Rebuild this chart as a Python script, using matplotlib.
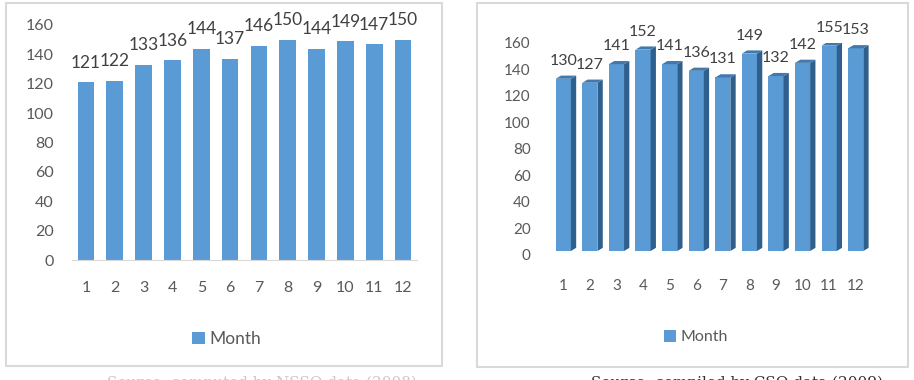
import matplotlib.pyplot as plt
from matplotlib.patches import Rectangle, Polygon

months = [1, 2, 3, 4, 5, 6, 7, 8, 9, 10, 11, 12]
left_vals = [121, 122, 133, 136, 144, 137, 146, 150, 144, 149, 147, 150]
right_vals = [130, 127, 141, 152, 141, 136, 131, 149, 132, 142, 155, 153]
yticks = [0, 20, 40, 60, 80, 100, 120, 140, 160]
series_name = 'Month'

W, H = 914, 380
blue = '#5B9BD5'
side = '#2F5F8C'
top = '#4178AD'
txt = '#595959'
plt.rcParams['font.family'] = ['Lato', 'DejaVu Sans']

fig = plt.figure(figsize=(W / 100, H / 100), dpi=100)
fig.patch.set_facecolor('white')


def px(x0, y0, x1, y1):
    # pixel box (from top-left) -> figure fraction rect
    return [x0 / W, 1 - y1 / H, (x1 - x0) / W, (y1 - y0) / H]


# panel frames
for x0, y0, x1, y1 in [(6, 3, 442, 366), (477, 3, 908, 367)]:
    fig.add_artist(Rectangle((x0 / W, 1 - y1 / H), (x1 - x0) / W, (y1 - y0) / H,
                             transform=fig.transFigure, fill=False,
                             edgecolor='#D9D9D9', lw=1.5))

# ---- left chart (flat bars)
ax1 = fig.add_axes(px(71.6, 25, 417.4, 260))
bars1 = ax1.bar(months, left_vals, width=0.58, color=blue, label=series_name)
ax1.set_xlim(0.5, 12.5)
ax1.set_ylim(0, 160)
ax1.set_yticks(yticks)
ax1.set_xticks(months)
for s in ['top', 'right', 'left']:
    ax1.spines[s].set_visible(False)
ax1.spines['bottom'].set_color('#D9D9D9')
ax1.tick_params(axis='y', length=0, pad=13, labelsize=11.5, labelcolor=txt)
ax1.tick_params(axis='x', length=0, pad=15, labelsize=11.5, labelcolor=txt)
for m, v in zip(months, left_vals):
    ax1.annotate(str(v), (m, v), xytext=(0, 14), textcoords='offset points',
                 ha='center', va='center', fontsize=12.5, color='#404040')
fig.legend(handles=[bars1], labels=[series_name], loc='center',
           bbox_to_anchor=(227 / W, 1 - 339 / H), frameon=False, fontsize=12.5,
           handlelength=0.7, handleheight=0.7, handletextpad=0.3, labelcolor=txt)

# ---- right chart (pseudo 3D bars)
ax2 = fig.add_axes(px(550, 43, 869, 255))
off, dx, dy, w = 3, 0.2, 2.4, 0.57
bars2 = ax2.bar(months, right_vals, width=w, bottom=off, color=blue,
                label=series_name, zorder=2)
for m, v in zip(months, right_vals):
    xr = m + w / 2
    xl = m - w / 2
    ax2.add_patch(Polygon([(xr, off), (xr + dx, off + dy), (xr + dx, v + off + dy),
                           (xr, v + off)], closed=True, color=side, zorder=2, lw=0))
    ax2.add_patch(Polygon([(xl, v + off), (xr, v + off), (xr + dx, v + off + dy),
                           (xl + dx, v + off + dy)], closed=True, color=top, zorder=2, lw=0))
    ax2.annotate(str(v), (m, v + off), xytext=(0, 13), textcoords='offset points',
                 ha='center', va='center', fontsize=11.5, color='#404040')
ax2.set_xlim(0.5, 12.5)
ax2.set_ylim(0, 160)
ax2.set_yticks(yticks)
ax2.set_xticks(months)
for s in ax2.spines.values():
    s.set_visible(False)
ax2.tick_params(axis='y', length=0, pad=14, labelsize=11, labelcolor=txt)
ax2.tick_params(axis='x', length=0, pad=17, labelsize=11, labelcolor=txt)
fig.legend(handles=[bars2], labels=[series_name], loc='center',
           bbox_to_anchor=(696 / W, 1 - 337 / H), frameon=False, fontsize=11.5,
           handlelength=0.7, handleheight=0.8, handletextpad=0.3, labelcolor=txt)

# captions, cut off by the bottom edge of the image (as in the reference)
fig.text(262 / W, 1 - 376 / H, 'Source: computed by NSSO data (2008)', ha='center',
         va='top', fontsize=11, color='#C8C8C8', family='DejaVu Serif')
fig.text(737 / W, 1 - 376 / H, 'Source: compiled by CSO data (2009)', ha='center',
         va='top', fontsize=11, color='#333333', family='DejaVu Serif')

fig.savefig('out.png', dpi=100, facecolor='white')
